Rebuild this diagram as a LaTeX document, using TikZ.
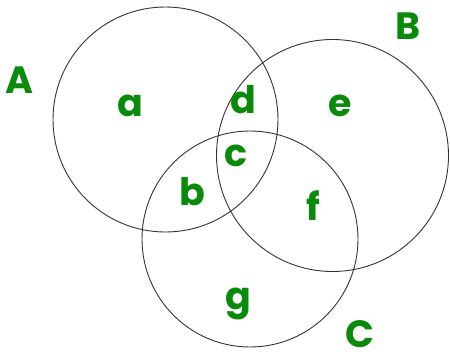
\documentclass[tikz,border=0pt]{standalone}
\usepackage{fontspec}
\setmainfont{Poppins}
\usetikzlibrary{positioning}
\definecolor{vnInk}{HTML}{333333}
\definecolor{vnGreen}{HTML}{0A8A0A}
\tikzset{
  setc/.style={circle, draw=vnInk, line width=0.9pt, inner sep=0pt},
  setname/.style={text=vnGreen, font=\fontsize{38}{42}\selectfont\bfseries, inner sep=0pt},
  region/.style={text=vnGreen, font=\fontsize{38}{42}\selectfont\bfseries, inner sep=0pt},
}
\begin{document}
\begin{tikzpicture}[x=1pt, y=-1pt]
  \useasboundingbox (0,0) rectangle (450,361);
  % the three sets
  \node[setc, minimum size=225pt] (cA) at (165.5,119.5) {};
  \node[setc, minimum size=232pt] (cB) at (332.5,155.5) {};
  \node[setc, minimum size=216pt] (cC) at (250,239) {};
  % set names
  \node[setname] (nA) at (20,80) {A};
  \node[setname] (nB) at (408,26) {B};
  \node[setname] (nC) at (360,334) {C};
  % regions
  \node[region] (ra) at (130,106) {a};
  \node[region] (rb) at (192,192) {b};
  \node[region] (rc) at (236,156) {c};
  \node[region] (rd) at (243,100) {d};
  \node[region] (re) at (340,106) {e};
  \node[region] (rf) at (313,206) {f};
  \node[region] (rg) at (238,304) {g};
\end{tikzpicture}
\end{document}
